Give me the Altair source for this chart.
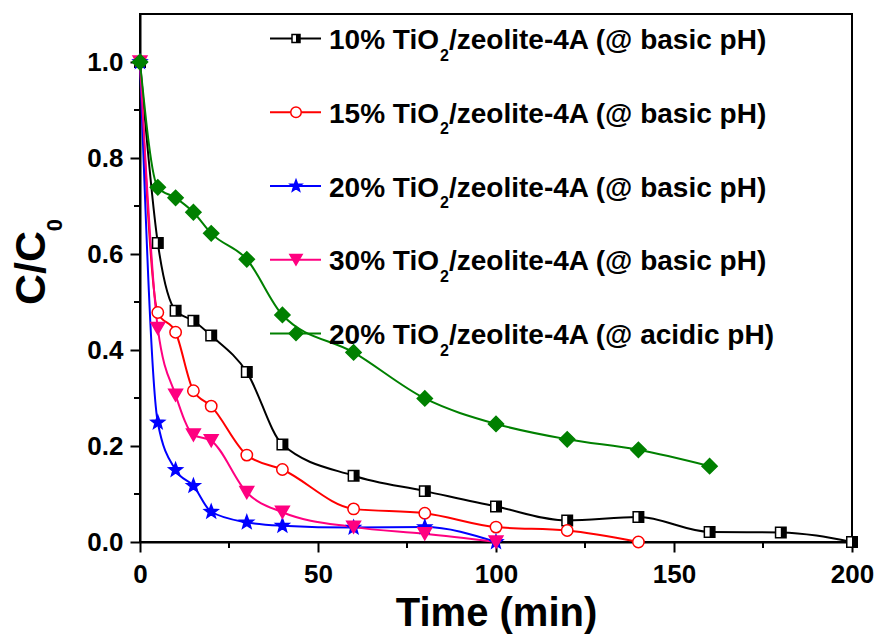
import math
import pandas as pd
import altair as alt

# ---------------- data ----------------
series_keys = ["s10", "s15", "s20", "s30", "s20a"]
series_colors = ["#000000", "#FF0000", "#0000FF", "#FF0080", "#008000"]

time_10 = [0, 5, 10, 15, 20, 30, 40, 60, 80, 100, 120, 140, 160, 180, 200]
conc_10 = [1.0, 0.623, 0.482, 0.461, 0.430, 0.354, 0.203, 0.138, 0.106, 0.074, 0.045, 0.052, 0.021, 0.020, 0.0]

time_15 = [0, 5, 10, 15, 20, 30, 40, 60, 80, 100, 120, 140]
conc_15 = [1.0, 0.478, 0.437, 0.315, 0.283, 0.181, 0.151, 0.069, 0.060, 0.031, 0.024, 0.0]

time_20 = [0, 5, 10, 15, 20, 30, 40, 60, 80, 100]
conc_20 = [1.0, 0.249, 0.150, 0.117, 0.063, 0.041, 0.034, 0.030, 0.031, 0.0]

time_30 = [0, 5, 10, 15, 20, 30, 40, 60, 80, 100]
conc_30 = [1.0, 0.445, 0.306, 0.223, 0.211, 0.103, 0.062, 0.031, 0.017, 0.0]

time_20a = [0, 5, 10, 15, 20, 30, 40, 60, 80, 100, 120, 140, 160]
conc_20a = [1.0, 0.739, 0.717, 0.687, 0.643, 0.589, 0.473, 0.395, 0.299, 0.246, 0.214, 0.192, 0.158]

legend_prefix = ["10% TiO", "15% TiO", "20% TiO", "30% TiO", "20% TiO"]
legend_sub = ["2", "2", "2", "2", "2"]
legend_suffix = ["/zeolite-4A (@ basic pH)", "/zeolite-4A (@ basic pH)",
                 "/zeolite-4A (@ basic pH)", "/zeolite-4A (@ basic pH)",
                 "/zeolite-4A (@ acidic pH)"]

x_ticks = [0, 50, 100, 150, 200]
y_ticks = [0.0, 0.2, 0.4, 0.6, 0.8, 1.0]
x_minor = [25, 75, 125, 175]
y_minor = [0.1, 0.3, 0.5, 0.7, 0.9]

# ---------------- build tables ----------------
times = [time_10, time_15, time_20, time_30, time_20a]
concs = [conc_10, conc_15, conc_20, conc_30, conc_20a]
df = pd.concat(
    [pd.DataFrame({"series": k, "t": t, "c": c}) for k, t, c in zip(series_keys, times, concs)],
    ignore_index=True,
)

FONT = "Liberation Sans"
W, H = 712, 528


def star_path(inner=0.42):
    pts = []
    for k in range(10):
        ang = math.radians(-90 + 36 * k)
        r = 1.0 if k % 2 == 0 else inner
        pts.append(f"{r * math.cos(ang):.3f},{r * math.sin(ang):.3f}")
    return "M" + "L".join(pts) + "Z"


HALF = "M0,-1L1,-1L1,1L0,1Z"
STAR = star_path()

# shape, fill, stroke, size, legend size
styles = {
    "s10": ("square", "white", "#000000", 110, 64),
    "s15": ("circle", "white", "#FF0000", 130, 110),
    "s20": (STAR, "#0000FF", "#0000FF", 200, 150),
    "s30": ("triangle-down", "#FF0080", "#FF0080", 190, 150),
    "s20a": ("diamond", "#008000", "#008000", 230, 190),
}

axis_common = dict(
    grid=False,
    domainColor="black", domainWidth=2,
    tickColor="black", tickWidth=2, tickSize=10,
    labelFont=FONT, labelFontSize=26, labelFontWeight="bold", labelColor="black",
    labelFlush=False, labelOverlap=False,
)

x_enc = alt.X(
    "t:Q",
    scale=alt.Scale(domain=[0, 200], nice=False, zero=False),
    axis=alt.Axis(values=x_ticks, format="d", labelPadding=9,
                  title="Time (min)", titleFont=FONT, titleFontSize=40,
                  titleFontWeight="bold", titleColor="black",
                  titleBaseline="alphabetic", titleY=83, **axis_common),
)
y_enc = alt.Y(
    "c:Q",
    scale=alt.Scale(domain=[0, 1.1], nice=False, zero=False),
    axis=alt.Axis(values=y_ticks, format=".1f", labelPadding=7, title=None, **axis_common),
)

layers = []

# lines
layers.append(
    alt.Chart(df).mark_line(interpolate="monotone", strokeWidth=2).encode(
        x=x_enc, y=y_enc,
        color=alt.Color("series:N", scale=alt.Scale(domain=series_keys, range=series_colors), legend=None),
    )
)

# markers
for key in series_keys:
    shape, fill, stroke, size, _ = styles[key]
    sub = df[df.series == key]
    layers.append(
        alt.Chart(sub).mark_point(shape=shape, filled=True, fill=fill, stroke=stroke,
                                  strokeWidth=1.5, size=size, opacity=1).encode(x="t:Q", y="c:Q")
    )
    if key == "s10":
        layers.append(
            alt.Chart(sub).mark_point(shape=HALF, filled=True, fill="black", strokeWidth=0,
                                      size=size, opacity=1).encode(x="t:Q", y="c:Q")
        )

# minor ticks
layers.append(
    alt.Chart(pd.DataFrame({"t": x_minor})).mark_rule(color="black", strokeWidth=2).encode(
        x="t:Q", y=alt.value(H), y2=alt.value(H + 6))
)
layers.append(
    alt.Chart(pd.DataFrame({"c": y_minor})).mark_rule(color="black", strokeWidth=2).encode(
        y="c:Q", x=alt.value(-6), x2=alt.value(0))
)

# legend
one = pd.DataFrame({"a": [0]})
for i, key in enumerate(series_keys):
    shape, fill, stroke, size, lsize = styles[key]
    col = series_colors[i]
    yc = 24.5 + 73.75 * i
    row = pd.DataFrame({"prefix": [legend_prefix[i]], "sub": [legend_sub[i]], "suffix": [legend_suffix[i]]})
    layers.append(alt.Chart(row).mark_rule(color=col, strokeWidth=2).encode(
        x=alt.value(130), x2=alt.value(181), y=alt.value(yc)))
    layers.append(alt.Chart(row).mark_point(shape=shape, filled=True, fill=fill, stroke=stroke,
                                            strokeWidth=1.5, size=lsize, opacity=1).encode(
        x=alt.value(156), y=alt.value(yc)))
    if key == "s10":
        layers.append(alt.Chart(row).mark_point(shape=HALF, filled=True, fill="black", strokeWidth=0,
                                                size=lsize, opacity=1).encode(
            x=alt.value(156), y=alt.value(yc)))
    layers.append(alt.Chart(row).mark_text(align="left", baseline="alphabetic", font=FONT, fontSize=28,
                                           fontWeight="bold", color="black").encode(
        x=alt.value(189), y=alt.value(yc + 10.5), text="prefix:N"))
    layers.append(alt.Chart(row).mark_text(align="left", baseline="alphabetic", font=FONT, fontSize=16,
                                           fontWeight="bold", color="black").encode(
        x=alt.value(300), y=alt.value(yc + 22), text="sub:N"))
    layers.append(alt.Chart(row).mark_text(align="left", baseline="alphabetic", font=FONT, fontSize=28,
                                           fontWeight="bold", color="black").encode(
        x=alt.value(309), y=alt.value(yc + 10.5), text="suffix:N"))

# y-axis title C/C0
layers.append(alt.Chart(one).mark_text(text="C/C", angle=270, align="center", baseline="alphabetic",
                                       font=FONT, fontSize=43, fontWeight="bold", color="black").encode(
    x=alt.value(-95), y=alt.value(254)))
layers.append(alt.Chart(one).mark_text(text="0", angle=270, align="center", baseline="alphabetic",
                                       font=FONT, fontSize=22, fontWeight="bold", color="black").encode(
    x=alt.value(-78), y=alt.value(211)))

chart = (
    alt.layer(*layers)
    .properties(width=W, height=H, autosize=alt.AutoSizeParams(type="none"),
                padding={"left": 140, "top": 14, "right": 29, "bottom": 95},
                background="white")
    .configure_view(stroke="black", strokeWidth=2)
)

chart.save("out.html", embed_options={"renderer": "svg", "actions": False})
